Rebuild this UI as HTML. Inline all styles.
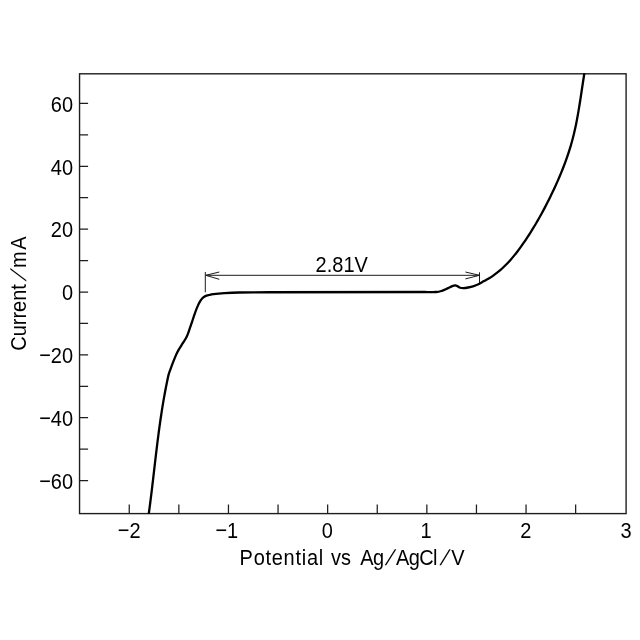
<!DOCTYPE html>
<html lang="en">
<head>
<meta charset="utf-8">
<title>Current vs Potential</title>
<style>
  html, body { margin: 0; padding: 0; background: #ffffff; }
  body { width: 640px; height: 640px; overflow: hidden; }
  svg { display: block; will-change: transform; }
  text { font-family: "Liberation Sans", sans-serif; font-size: 20px; fill: #000000; }
  .frame { fill: none; stroke: #1e1e1e; stroke-width: 1.4; }
  .tick { stroke: #1e1e1e; stroke-width: 1.25; fill: none; }
  .thin { stroke: #1c1c1c; stroke-width: 1; fill: none; }
  .curve { fill: none; stroke: #000000; stroke-width: 2.3; stroke-linejoin: round; stroke-linecap: butt; }
</style>
</head>
<body>
<svg width="640" height="640" viewBox="0 0 640 640">
  <rect x="0" y="0" width="640" height="640" fill="#ffffff"/>

  <!-- plot frame -->
  <rect class="frame" x="79.55" y="73.8" width="546.55" height="439.8"/>

  <!-- y ticks (every 10 mA) -->
  <g class="tick">
    <path d="M79.7 103.4h8.4 M79.7 134.9h8.4 M79.7 166.3h8.4 M79.7 197.7h8.4 M79.7 229.1h8.4 M79.7 260.6h8.4 M79.7 292h8.4 M79.7 323.4h8.4 M79.7 354.9h8.4 M79.7 386.3h8.4 M79.7 417.7h8.4 M79.7 449.1h8.4 M79.7 480.6h8.4"/>
  </g>
  <!-- x ticks (every 0.5 V) -->
  <g class="tick">
    <path d="M129.25 513.6v-9 M178.85 513.6v-9 M228.45 513.6v-9 M278.05 513.6v-9 M327.65 513.6v-9 M377.25 513.6v-9 M426.85 513.6v-9 M476.45 513.6v-9 M526.05 513.6v-9 M575.65 513.6v-9"/>
  </g>

  <!-- y tick labels -->
  <g text-anchor="end">
    <text transform="translate(73.1 111.6) scale(1 1.135)">60</text>
    <text transform="translate(73.1 174.5) scale(1 1.135)">40</text>
    <text transform="translate(73.1 237.3) scale(1 1.135)">20</text>
    <text transform="translate(73.1 300.2) scale(1 1.135)">0</text>
    <text transform="translate(73.1 363.1) scale(1 1.135)">−20</text>
    <text transform="translate(73.1 425.9) scale(1 1.135)">−40</text>
    <text transform="translate(73.1 488.8) scale(1 1.135)">−60</text>
  </g>

  <!-- x tick labels -->
  <g text-anchor="middle">
    <text transform="translate(129.2 538.0) scale(1 1.135)">−2</text>
    <text transform="translate(226.8 538.0) scale(1 1.135)">−1</text>
    <text transform="translate(327.3 538.0) scale(1 1.135)">0</text>
    <text transform="translate(426 538.0) scale(1 1.135)">1</text>
    <text transform="translate(525.8 538.0) scale(1 1.135)">2</text>
    <text transform="translate(626 538.0) scale(1 1.135)">3</text>
  </g>

  <!-- axis titles -->
  <g>
    <text transform="translate(239.6 564.8) scale(1 1.085)" textLength="83.6" lengthAdjust="spacing">Potential</text>
    <text transform="translate(331.1 564.8) scale(1 1.085)">vs</text>
    <text transform="translate(360.3 564.8) scale(1 1.085)" textLength="23.8" lengthAdjust="spacing">Ag</text>
    <text transform="translate(384.8 564.8) skewX(-21) scale(1 1.085)">/</text>
    <text transform="translate(396 564.8) scale(1 1.085)" textLength="41.4" lengthAdjust="spacing">AgCl</text>
    <text transform="translate(439.4 564.8) skewX(-20) scale(1 1.085)">/</text>
    <text transform="translate(451.2 564.8) scale(1 1.085)">V</text>
  </g>
  <g>
    <text transform="translate(26.3 350.8) rotate(-90) scale(1 1.085)">Current</text>
    <text transform="translate(26.3 281.4) rotate(-90) skewX(-27) scale(1 1.085)">/</text>
    <text transform="translate(26.3 267.9) rotate(-90) scale(1 1.085)" textLength="31.6" lengthAdjust="spacing">mA</text>
  </g>

  <!-- annotation -->
  <g class="thin">
    <path d="M205.3 272v20.3"/>
    <path d="M479.5 272.3v11"/>
    <path d="M205.7 275.3H479.5"/>
    <path d="M219.3 272L205.7 275.3L219.3 279.3"/>
    <path d="M465.4 272L479.5 275.3L465.4 278.9"/>
  </g>
  <text transform="translate(341.7 271.8) scale(1 1.135)" text-anchor="middle">2.81V</text>

  <!-- curve -->
  <defs><clipPath id="plotclip"><rect x="79.7" y="73.3" width="546.4" height="440.8"/></clipPath></defs>
  <path class="curve" clip-path="url(#plotclip)" d="M148.77 513.72 C148.94 512.51 149.44 508.87 149.76 506.44 C150.07 504.01 150.39 501.57 150.69 499.14 C151.00 496.70 151.30 494.26 151.60 491.82 C151.89 489.38 152.18 486.94 152.47 484.50 C152.76 482.06 153.05 479.61 153.33 477.17 C153.62 474.73 153.90 472.28 154.18 469.83 C154.47 467.39 154.75 464.94 155.04 462.49 C155.32 460.05 155.61 457.60 155.90 455.15 C156.19 452.70 156.48 450.26 156.78 447.81 C157.08 445.36 157.38 442.91 157.69 440.47 C157.99 438.02 158.31 435.58 158.63 433.13 C158.95 430.69 159.28 428.24 159.62 425.80 C159.96 423.36 160.30 420.92 160.66 418.48 C161.02 416.04 161.39 413.60 161.77 411.16 C162.15 408.73 162.54 406.29 162.94 403.86 C163.35 401.43 163.77 399.00 164.20 396.58 C164.63 394.15 165.08 391.73 165.55 389.30 C166.01 386.88 166.49 384.47 166.99 382.05 C167.49 379.64 167.92 377.06 168.54 374.82 C169.16 372.58 169.84 370.95 170.70 368.60 C171.56 366.25 172.78 363.03 173.70 360.70 C174.62 358.37 175.38 356.42 176.20 354.60 C177.02 352.78 177.50 351.70 178.60 349.80 C179.70 347.90 181.58 345.12 182.80 343.20 C184.02 341.28 185.03 339.90 185.90 338.30 C186.77 336.70 187.35 335.25 188.00 333.60 C188.65 331.95 189.18 330.20 189.80 328.40 C190.42 326.60 191.07 324.67 191.70 322.80 C192.33 320.93 192.97 319.07 193.60 317.20 C194.23 315.33 194.80 313.48 195.50 311.60 C196.20 309.72 197.02 307.63 197.80 305.90 C198.58 304.17 199.40 302.52 200.20 301.20 C201.00 299.88 201.75 298.85 202.60 298.00 C203.45 297.15 204.23 296.60 205.30 296.10 C206.37 295.60 207.65 295.33 209.00 295.00 C210.35 294.67 210.83 294.42 213.40 294.10 C215.97 293.78 220.10 293.37 224.40 293.10 C228.70 292.83 231.60 292.64 239.20 292.50 C246.80 292.36 264.87 292.29 270.00 292.25 L425.00 292.00 C426.88 292.00 433.43 292.20 436.25 292.00 C439.07 291.80 440.02 291.40 441.90 290.80 C443.77 290.20 445.78 289.18 447.50 288.40 C449.22 287.62 450.92 286.62 452.20 286.10 C453.48 285.58 454.27 285.25 455.20 285.30 C456.13 285.35 456.97 285.99 457.80 286.40 C458.63 286.81 459.27 287.47 460.20 287.75 C461.13 288.03 462.08 288.14 463.40 288.10 C464.72 288.06 466.38 287.83 468.10 287.50 C469.83 287.17 472.03 286.65 473.75 286.10 C475.47 285.55 476.76 284.99 478.40 284.20 C480.04 283.41 481.87 282.31 483.59 281.36 C485.31 280.41 487.07 279.51 488.73 278.51 C490.39 277.51 491.99 276.45 493.55 275.35 C495.11 274.25 496.62 273.10 498.09 271.92 C499.56 270.73 500.99 269.50 502.38 268.23 C503.76 266.96 505.11 265.65 506.43 264.31 C507.74 262.97 509.02 261.59 510.27 260.19 C511.52 258.79 512.74 257.35 513.93 255.89 C515.13 254.44 516.30 252.95 517.45 251.44 C518.60 249.94 519.72 248.41 520.83 246.87 C521.94 245.32 523.03 243.76 524.12 242.19 C525.20 240.61 526.26 239.03 527.32 237.43 C528.37 235.83 529.41 234.21 530.44 232.59 C531.46 230.97 532.48 229.34 533.47 227.69 C534.47 226.05 535.46 224.40 536.43 222.74 C537.40 221.08 538.36 219.41 539.31 217.74 C540.25 216.07 541.18 214.39 542.10 212.70 C543.02 211.02 543.92 209.33 544.82 207.63 C545.71 205.94 546.58 204.24 547.45 202.54 C548.31 200.84 549.16 199.14 550.00 197.44 C550.84 195.74 551.66 194.03 552.47 192.33 C553.28 190.63 554.08 188.93 554.86 187.22 C555.64 185.52 556.41 183.82 557.17 182.12 C557.92 180.42 558.66 178.72 559.39 177.01 C560.11 175.31 560.83 173.60 561.52 171.89 C562.22 170.18 562.90 168.47 563.56 166.75 C564.22 165.03 564.87 163.31 565.50 161.58 C566.13 159.85 566.75 158.12 567.34 156.37 C567.94 154.63 568.52 152.88 569.08 151.12 C569.64 149.36 570.19 147.59 570.71 145.81 C571.24 144.03 571.75 142.24 572.23 140.44 C572.72 138.64 573.19 136.83 573.64 135.01 C574.09 133.18 574.52 131.34 574.93 129.49 C575.35 127.64 575.74 125.78 576.12 123.91 C576.50 122.04 576.86 120.16 577.21 118.28 C577.57 116.40 577.90 114.50 578.23 112.61 C578.56 110.71 578.88 108.81 579.19 106.91 C579.50 105.01 579.80 103.10 580.10 101.20 C580.40 99.30 580.69 97.39 580.98 95.49 C581.27 93.59 581.55 91.69 581.83 89.79 C582.12 87.90 582.40 86.01 582.69 84.13 C582.97 82.25 583.26 80.37 583.55 78.51 C583.84 76.64 584.29 73.86 584.44 72.94"/>
</svg>
</body>
</html>
